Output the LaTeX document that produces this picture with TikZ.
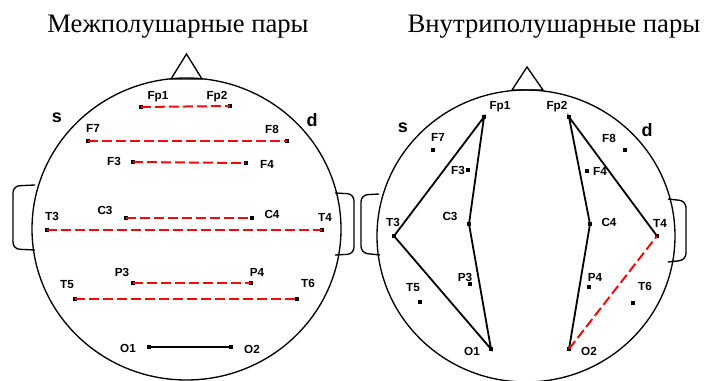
\documentclass[tikz,border=0pt]{standalone}
\usepackage{fontspec}
\setmainfont{Liberation Serif}
\setsansfont{Liberation Sans}
\usepackage{tikz}
\usetikzlibrary{shapes.geometric}
\definecolor{PairRed}{RGB}{240,10,10}
\tikzset{
  head/.style={ellipse, draw=black, line width=1pt, inner sep=0pt},
  elec/.style={rectangle, fill=black, inner sep=0pt, minimum size=2.6pt},
  lbl/.style={font=\sffamily\bfseries\fontsize{8.8}{9}\selectfont, inner sep=0pt},
  side/.style={font=\sffamily\bfseries\fontsize{13.5}{14}\selectfont, inner sep=0pt},
  ttl/.style={font=\fontsize{20}{22}\selectfont, inner sep=0pt, anchor=base},
  outline/.style={line width=1pt},
  inter/.style={draw=PairRed, line width=1.5pt, dash pattern=on 7.5pt off 3pt},
  intra/.style={draw=black, line width=1.35pt}
}

\begin{document}
\begin{tikzpicture}[x=0.75pt, y=-0.75pt]
  \useasboundingbox (0,0) rectangle (704,381);
  % titles
  \node[ttl] (ttlL) at (178,33) {Межполушарные пары};
  \node[ttl] (ttlR) at (554,33) {Внутриполушарные пары};

  % left head
  \node[head, minimum width=231.75pt, minimum height=226.5pt] (hL) at (186.5,229) {};
  \draw[outline] (171,79) -- (186.5,54) -- (202,79) -- cycle;
  \draw[outline, rounded corners=5pt] (35,185) -- (13,186) -- (13,249) -- (35,250);
  \draw[outline, rounded corners=5pt] (335,193) -- (354,194) -- (354,254) -- (335,255);
  \node[side] (sL) at (57,118) {s};
  \node[side] (dL) at (312,120) {d};
  \foreach \n/\x/\y/\lx/\ly in {Fp1/141/107/158/97, Fp2/230/106/217/97,
      F7/88/141/93/128, F8/287/141/272/129, F3/133/162/114/161, F4/246/163/267/164,
      C3/126/218/105/210, C4/252/218/272/214, T3/47/230/52/216, T4/322/230/325/217,
      P3/133/283/122/272, P4/251/283/257/272, T5/75/299/67/285, T6/297/299/308/283,
      O1/149/347/128/348, O2/231/347/252/349} {
    \node[elec] (l\n) at (\x,\y) {};
    \node[lbl] (lt\n) at (\lx,\ly) {\n};
  }
  \draw[inter] (lFp1.center) -- (lFp2.center);
  \draw[inter] (lF7.center) -- (lF8.center);
  \draw[inter] (lF3.center) -- (lF4.center);
  \draw[inter] (lC3.center) -- (lC4.center);
  \draw[inter] (lT3.center) -- (lT4.center);
  \draw[inter] (lP3.center) -- (lP4.center);
  \draw[inter] (lT5.center) -- (lT6.center);
  \draw[intra] (lO1.center) -- (lO2.center);

  % right head
  \node[head, minimum width=223.5pt, minimum height=219pt] (hR) at (526,236) {};
  \draw[outline] (512,90) -- (527,67) -- (543,90) -- cycle;
  \draw[outline, rounded corners=5pt] (379,194) -- (361,195) -- (361,253) -- (380,255);
  \draw[outline, rounded corners=5pt] (668,199) -- (686,201) -- (686,260) -- (668,262);
  \node[side] (sR) at (403,128) {s};
  \node[side] (dR) at (647,130) {d};
  \foreach \n/\x/\y/\lx/\ly in {Fp1/484/117/500/107, Fp2/569/117/557/107,
      F7/433/150/438/137, F8/625/150/609/138, F3/468/170/458/170, F4/587/171/600/171,
      C3/469/224/450/216, C4/590/224/609/222, T3/394/236/393/222, T4/657/236/660/223,
      P3/470/284/465/277, P4/589/287/595/277, T5/420/302/413/288, T6/633/303/645/286,
      O1/491/349/472/351, O2/569/349/589/351} {
    \node[elec] (r\n) at (\x,\y) {};
    \node[lbl] (rt\n) at (\lx,\ly) {\n};
  }
  \draw[intra] (rT3.center) -- (rFp1.center) -- (rC3.center) -- (rO1.center) -- cycle;
  \draw[intra] (rT4.center) -- (rFp2.center) -- (rC4.center) -- (rO2.center);
  \draw[inter] (rO2.center) -- (rT4.center);
\end{tikzpicture}
\end{document}
